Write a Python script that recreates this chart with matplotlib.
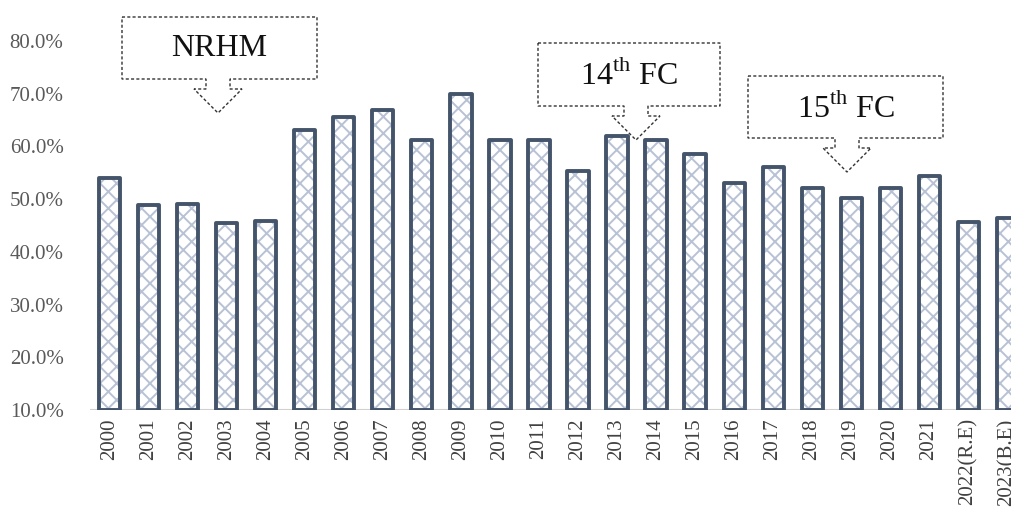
import numpy as np
import matplotlib.pyplot as plt
from matplotlib.patches import Polygon
from matplotlib.ticker import PercentFormatter

plt.rcParams['font.family'] = ['Liberation Serif', 'DejaVu Serif']
plt.rcParams['mathtext.fontset'] = 'custom'
plt.rcParams['mathtext.rm'] = 'Liberation Serif'
plt.rcParams['hatch.linewidth'] = 1.4

# data
years = ['2000', '2001', '2002', '2003', '2004', '2005', '2006', '2007',
         '2008', '2009', '2010', '2011', '2012', '2013', '2014', '2015',
         '2016', '2017', '2018', '2019', '2020', '2021', '2022(R.E)', '2023(B.E)']
share = [54.0, 48.9, 49.1, 45.5, 45.9, 63.1, 65.6, 66.9,
         61.2, 70.0, 61.2, 61.2, 55.3, 62.0, 61.2, 58.6,
         53.1, 56.1, 52.1, 50.2, 52.1, 54.4, 45.7, 46.4]

# callouts: label, box (left, top, right, bottom) and arrow tip, in pixels
callouts = [
    ('NRHM', (122, 17, 317, 79), (218, 113)),
    ('14$^{\\mathrm{th}}$ FC', (538, 43, 720, 106), (636, 140)),
    ('15$^{\\mathrm{th}}$ FC', (748, 76, 943, 138), (847, 172)),
]

W, H = 1011, 515
fig = plt.figure(figsize=(W / 100, H / 100), dpi=100)
ax = fig.add_axes([90 / W, (H - 410) / H, (W - 90) / W, (410 - 41) / H])

x = np.arange(len(years))
base = 10.0
vals = np.array(share) - base
# hatch fill first (hatch takes the edge colour), then the dark outline
ax.bar(x, vals, bottom=base, width=0.54, facecolor='white',
       edgecolor='#b8c2d4', linewidth=0, hatch='xx', zorder=3)
ax.bar(x, vals, bottom=base, width=0.54, facecolor='none',
       edgecolor='#44546a', linewidth=2.8, joinstyle='round', zorder=4)

ax.axhline(base, color='#d0d0d0', lw=1.5, zorder=2)
ax.set_xlim(-0.51, 23.1)
ax.set_ylim(10, 80)
ax.set_yticks(np.arange(10, 81, 10))
ax.yaxis.set_major_formatter(PercentFormatter(decimals=1))
ax.set_xticks(x)
ax.set_xticklabels(years, rotation=90)
ax.tick_params(axis='y', length=0, labelsize=15, labelcolor='#595959', pad=19)
ax.tick_params(axis='x', length=0, labelsize=15, labelcolor='#404040', pad=6)
for s in ax.spines.values():
    s.set_visible(False)


def px(px_x, px_y):
    return (px_x / W, (H - px_y) / H)


for label, (l, t, r, b), (tx, ty) in callouts:
    cx = tx
    hs = 12   # stem half width
    hh = 24   # head half width
    sb = b + 10
    pts = [(l, t), (r, t), (r, b), (cx + hs, b), (cx + hs, sb), (cx + hh, sb),
           (tx, ty), (cx - hh, sb), (cx - hs, sb), (cx - hs, b), (l, b)]
    poly = Polygon([px(*p) for p in pts], closed=True, transform=fig.transFigure,
                   facecolor='white', edgecolor='#333333', lw=1.0,
                   linestyle=(0, (2.2, 1.6)), zorder=5)
    fig.patches.append(poly)
    fig.text(*px((l + r) / 2, (t + b) / 2 + 1), label, ha='center', va='center',
             fontsize=23, color='#111111', zorder=6)

fig.savefig('out.png', dpi=100)
